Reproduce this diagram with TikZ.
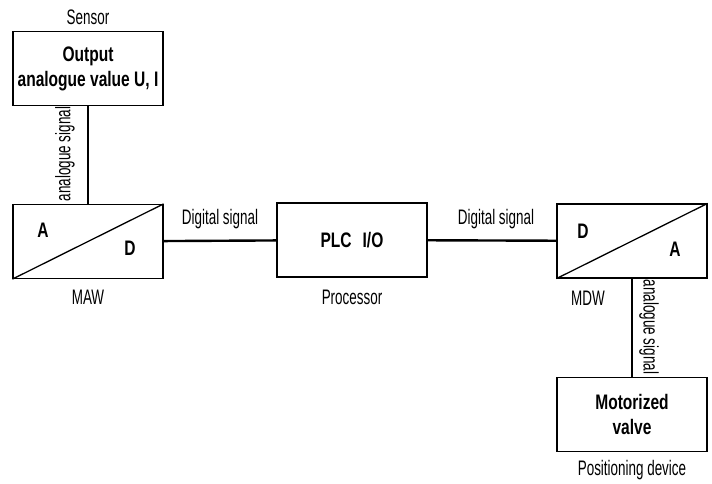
\documentclass[tikz,border=0pt]{standalone}
\usepackage{fontspec}
\setmainfont{Liberation Sans}[FakeStretch=0.64,BoldFeatures={FakeStretch=0.74}]
\usepackage{tikz}

\begin{document}
\begin{tikzpicture}[x=1pt,y=-1pt,font=\fontsize{21}{23}\selectfont,
  block/.style={draw,line width=1.3pt,minimum width=150pt,minimum height=74pt,inner sep=0pt,align=center,font=\fontsize{21}{25}\selectfont\bfseries},
  conn/.style={line width=2.4pt},
  lbl/.style={inner sep=0pt},
  letter/.style={inner sep=0pt,font=\fontsize{21}{23}\selectfont\bfseries}]

\useasboundingbox (0,0) rectangle (712,484);

% blocks
\node[block] (sensor) at (88,68.5) {Output\\analogue value U, I};
\node[block] (maw) at (88,241.5) {};
\node[block] (plc) at (352,240) {PLC\hspace{11pt}I/O};
\node[block] (mdw) at (632,241) {};
\node[block] (valve) at (632,414.5) {Motorized\\valve};

% converter diagonals
\draw[line width=1.3pt] (maw.north east) -- (maw.south west);
\draw[line width=1.3pt] (mdw.south west) -- (mdw.north east);
\node[letter] (mawA) at (43,230) {A};
\node[letter] (mawD) at (130,248) {D};
\node[letter] (mdwD) at (583,231) {D};
\node[letter] (mdwA) at (675,249) {A};

% connectors
\draw[conn] (sensor) -- (maw);
\draw[conn] (maw) -- (plc);
\draw[conn] (plc) -- (mdw);
\draw[conn] (mdw) -- (valve);

% captions
\node[lbl] (sensorlbl) at (88,17) {Sensor};
\node[lbl] (mawlbl) at (88,297) {MAW};
\node[lbl] (plclbl) at (352,297) {Processor};
\node[lbl] (mdwlbl) at (588,298) {MDW};
\node[lbl] (valvelbl) at (632,470) {Positioning device};

\node[lbl] (dig1) at (220,219) {Digital signal};
\node[lbl] (dig2) at (496,219) {Digital signal};
\node[lbl,rotate=90] (ana1) at (65,154) {analogue signal};
\node[lbl,rotate=-90] (ana2) at (649,327) {analogue signal};

\end{tikzpicture}
\end{document}
